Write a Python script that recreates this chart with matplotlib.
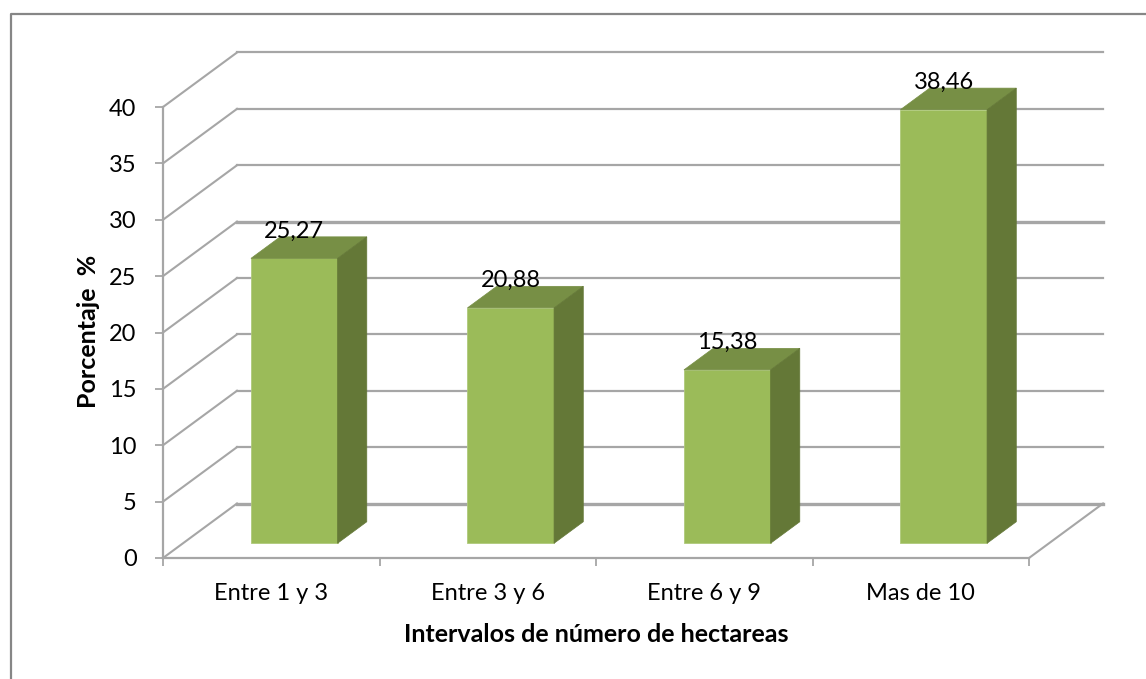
import matplotlib
matplotlib.use("Agg")
import matplotlib.pyplot as plt
import numpy as np
from matplotlib.lines import Line2D
from matplotlib.patches import Polygon

categories = ["Entre 1 y 3", "Entre 3 y 6", "Entre 6 y 9", "Mas de 10"]
values = [25.27, 20.88, 15.38, 38.46]
value_labels = ["25,27", "20,88", "15,38", "38,46"]
y_ticks = [0, 5, 10, 15, 20, 25, 30, 35, 40]
heavy_grid = [0, 25]

W, H = 1146, 679
# oblique depth in data units: full depth of the floor
DEPTH_X = 74 / 216.5
DEPTH_Y = 54.5 / 11.275
T_FRONT = 0.27
T_BACK = 0.665
BAR_LEFT = 0.314
BAR_WIDTH = 0.40

FRONT = "#9BBB59"
TOP = "#778F45"
SIDE = "#647837"
GRID = "#A6A6A6"

plt.rcParams["font.family"] = ["Lato", "DejaVu Sans"]

fig = plt.figure(figsize=(W / 100, H / 100), dpi=100)
ax = fig.add_axes([163 / W, 1 - 558 / H, (1029 - 163) / W, (558 - 107) / H])
ax.set_xlim(0, len(categories))
ax.set_ylim(0, 40)
ax.patch.set_visible(False)


def shifted(x, y, t):
    return (x + DEPTH_X * t, y + DEPTH_Y * t)


# outer frame of the picture (only top and left show)
fig.add_artist(Line2D([11 / W, 11 / W, 1], [0, 1 - 14 / H, 1 - 14 / H], color="#868686", lw=1.6))

# back wall grid and side wall diagonals
for v in y_ticks:
    lw = 2.4 if v in heavy_grid else 1.6
    p0 = shifted(0, v, 0)
    p1 = shifted(0, v, 1)
    p2 = shifted(len(categories), v, 1)
    ax.plot([p0[0], p1[0]], [p0[1], p1[1]], color=GRID, lw=1.5, clip_on=False, zorder=1)
    ax.plot([p1[0], p2[0]], [p1[1], p2[1]], color=GRID, lw=lw, clip_on=False, zorder=1)

# right edge of the floor
p1 = shifted(len(categories), 0, 0)
p2 = shifted(len(categories), 0, 1)
ax.plot([p1[0], p2[0]], [p1[1], p2[1]], color=GRID, lw=1.5, clip_on=False, zorder=1)

# bars: front face from the library, top and side as polygons
xs = np.arange(len(categories)) + BAR_LEFT
dx0, base = shifted(0, 0, T_FRONT)
ax.bar(xs + dx0, values, width=BAR_WIDTH, bottom=base, align="edge", color=FRONT,
       edgecolor="#AFC97A", linewidth=0.6, clip_on=False, zorder=3)

for x, v, txt in zip(xs, values, value_labels):
    l, r = x, x + BAR_WIDTH
    top = [shifted(l, v, T_FRONT), shifted(r, v, T_FRONT), shifted(r, v, T_BACK), shifted(l, v, T_BACK)]
    side = [shifted(r, 0, T_FRONT), shifted(r, 0, T_BACK), shifted(r, v, T_BACK), shifted(r, v, T_FRONT)]
    ax.add_patch(Polygon(top, closed=True, facecolor=TOP, edgecolor=TOP, lw=0.5, clip_on=False, zorder=3))
    ax.add_patch(Polygon(side, closed=True, facecolor=SIDE, edgecolor=SIDE, lw=0.5, clip_on=False, zorder=3))
    lx, ly = shifted(x + BAR_WIDTH / 2, v, T_FRONT)
    ax.text(lx, ly + 2.4, txt, ha="center", va="center", fontsize=17, color="black", zorder=5)

for s in ["top", "right"]:
    ax.spines[s].set_visible(False)
for s in ["left", "bottom"]:
    ax.spines[s].set_color(GRID)
    ax.spines[s].set_linewidth(1.6)

ax.set_yticks(y_ticks)
ax.set_xticks(np.arange(len(categories) + 1))
ax.set_xticklabels([])
ax.set_xticks(np.arange(len(categories)) + 0.5, categories, minor=True)
ax.tick_params(axis="x", which="major", length=6, width=1.3, color=GRID)
ax.tick_params(axis="x", which="minor", length=0, pad=18, labelsize=17)
ax.tick_params(axis="y", length=6, width=1.3, color=GRID, pad=13, labelsize=17)

fig.text(596 / W, 1 - 634 / H, "Intervalos de número de hectareas", ha="center", va="center",
         fontsize=18, fontweight="bold")
fig.text(88 / W, 1 - 331 / H, "Porcentaje  %", ha="center", va="center", rotation=90,
         fontsize=18, fontweight="bold")

fig.savefig("out.png", dpi=100)
